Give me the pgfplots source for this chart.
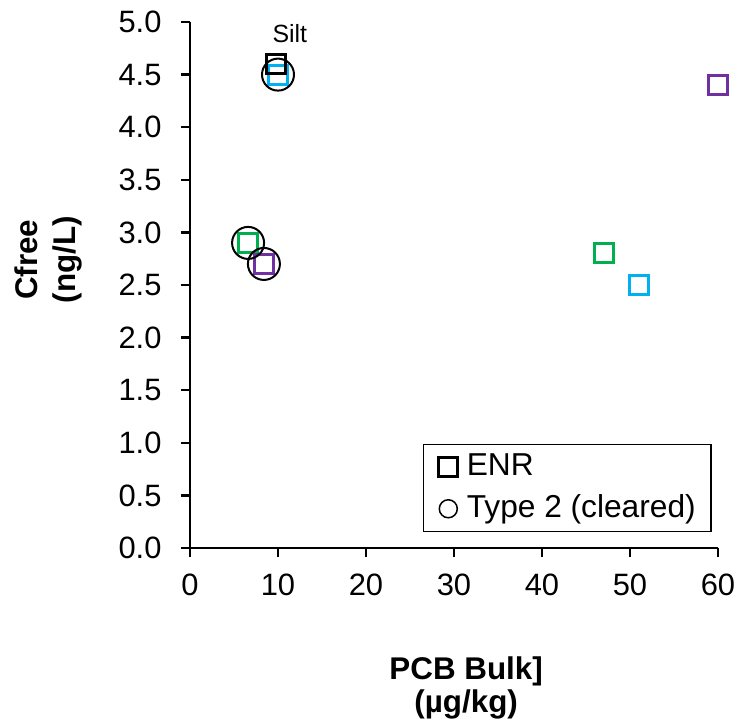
\documentclass[border=0pt]{standalone}
\usepackage{fontspec}
\setmainfont{Liberation Sans}
\usepackage{pgfplots}
\pgfplotsset{compat=1.18}
\definecolor{xgreen}{HTML}{00B050}
\definecolor{xcyan}{HTML}{00B0F0}
\definecolor{xpurple}{HTML}{7030A0}

\begin{document}
\begin{tikzpicture}
\useasboundingbox (-190bp,-175bp) rectangle (552bp,548bp);
\begin{axis}[
  scale only axis, width=528bp, height=526bp,
  xmin=0, xmax=60, ymin=0, ymax=5,
  axis lines*=left,
  axis line style={line width=2.5bp},
  tick align=outside, major tick length=9bp,
  tick style={line width=2.5bp, black},
  xtick={0,10,...,60}, ytick={0,0.5,...,5},
  yticklabel style={xshift=-16bp, /pgf/number format/.cd,fixed,fixed zerofill,precision=1},
  xticklabel style={yshift=-13bp},
  /pgf/number format/assume math mode=true,
  tick label style={font=\fontsize{31}{36}\selectfont},
  clip=false,
  ylabel={Cfree\\(ng/L)},
  ylabel style={at={(axis description cs:-0.268,0.548)}, anchor=center, align=center,
    font=\bfseries\fontsize{31.5}{38.5}\selectfont},
  xlabel={PCB Bulk]\\(µg/kg)},
  xlabel style={at={(axis description cs:0.523,-0.266)}, anchor=center, align=center,
    font=\bfseries\fontsize{31.5}{33}\selectfont},
  legend style={at={(axis description cs:0.9886,0.0304)}, anchor=south east,
    draw=black, line width=1.5bp, font=\fontsize{31.8}{36}\selectfont,
    inner xsep=15.5bp, inner ysep=7.5bp, row sep=12bp,
    nodes={inner xsep=0bp, inner ysep=0bp, text height=24bp, text depth=6bp},
    /tikz/every odd column/.append style={column sep=9bp}},
  legend cell align=left,
]
% coloured squares
\addplot[only marks, mark=square, mark size=9.5bp, line width=3bp, xcyan, forget plot]
  coordinates {(10,4.5) (51,2.5)};
\addplot[only marks, mark=square, mark size=9.5bp, line width=3bp, xgreen, forget plot]
  coordinates {(6.6,2.9) (47,2.8)};
\addplot[only marks, mark=square, mark size=9.5bp, line width=3bp, xpurple, forget plot]
  coordinates {(8.4,2.7) (60,4.4)};
% ENR
\addplot[only marks, mark=square, mark size=9.5bp, line width=3bp, black, forget plot]
  coordinates {(9.8,4.6)};
% Type 2 (cleared)
\addplot[only marks, mark=o, mark size=16bp, line width=2bp, black, forget plot]
  coordinates {(10,4.5) (6.6,2.9) (8.4,2.7)};
\node[font=\fontsize{25}{30}\selectfont] at (axis cs:11.35,4.89) {Silt};

\addlegendimage{only marks, mark=square, mark size=9.5bp, line width=3bp, black}
\addlegendentry{ENR}
\addlegendimage{only marks, mark=o, mark size=9bp, line width=1.5bp, black}
\addlegendentry{Type 2 (cleared)}
\end{axis}
\end{tikzpicture}
\end{document}
